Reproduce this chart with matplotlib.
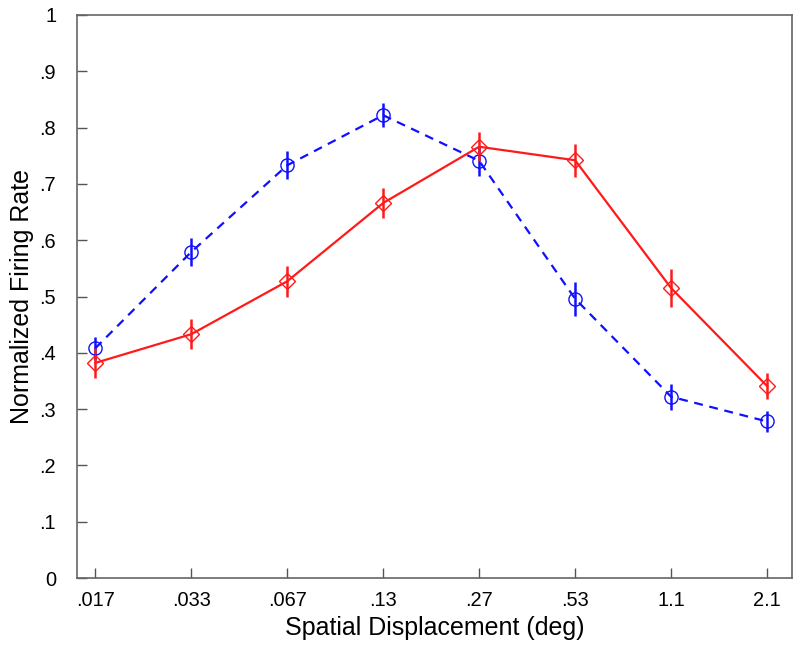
import matplotlib
matplotlib.use("Agg")
import matplotlib.pyplot as plt
import numpy as np

categories = [".017", ".033", ".067", ".13", ".27", ".53", "1.1", "2.1"]
red_vals = [0.382, 0.433, 0.527, 0.666, 0.766, 0.742, 0.515, 0.341]
red_err = [0.027, 0.027, 0.028, 0.026, 0.026, 0.029, 0.033, 0.023]
blue_vals = [0.408, 0.579, 0.733, 0.822, 0.741, 0.496, 0.322, 0.278]
blue_err = [0.020, 0.025, 0.025, 0.021, 0.027, 0.030, 0.023, 0.018]
yticks = [0, .1, .2, .3, .4, .5, .6, .7, .8, .9, 1]
ytick_labels = ["0", ".1", ".2", ".3", ".4", ".5", ".6", ".7", ".8", ".9", "1"]

plt.rcParams['font.family'] = ['Liberation Sans', 'DejaVu Sans']

fig = plt.figure(figsize=(8, 6.48), dpi=100)
ax = fig.add_axes([77/800, 1-578/648, (792-77)/800, (578-15)/648])

x = np.arange(len(categories))
ax.errorbar(x, blue_vals, yerr=blue_err, color='#1010ff', linestyle=(0, (4, 3)),
            linewidth=1.6, marker='o', markersize=9.5, markerfacecolor='none',
            markeredgewidth=1.0, elinewidth=1.8, capsize=0)
ax.errorbar(x, red_vals, yerr=red_err, color='#ff1a1a', linestyle='-',
            linewidth=1.6, marker='D', markersize=8, markerfacecolor='none',
            markeredgewidth=1.0, elinewidth=1.8, capsize=0)

ax.set_xlim(-0.19, 7.26)
ax.set_ylim(0, 1)
ax.set_xticks(x)
ax.set_xticklabels(categories)
ax.set_yticks(yticks)
ax.set_yticklabels(ytick_labels)
ax.tick_params(direction='in', length=7, width=1, color='#555555', labelsize=14.4)
ax.tick_params(axis='y', pad=15)
ax.tick_params(axis='x', pad=9)
for s in ax.spines.values():
    s.set_color('#666666')
    s.set_linewidth(1.2)
ax.set_xlabel("Spatial Displacement (deg)", fontsize=18, labelpad=5)
ax.set_ylabel("Normalized Firing Rate", fontsize=18, labelpad=4)

fig.savefig("out.png", dpi=100)
